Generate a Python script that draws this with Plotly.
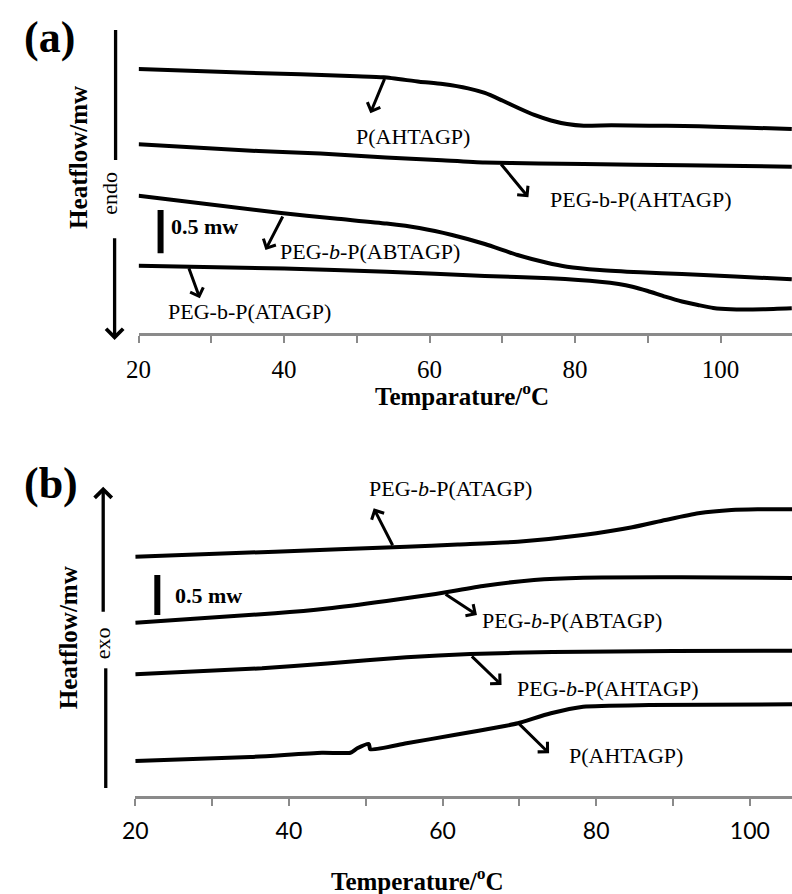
import plotly.graph_objects as go

W, H = 792, 894

# ---------------- data: panel (a) heating (endo down) ----------------
a_ahtagp_T = [20, 35, 50, 53.7, 58.6, 61.8, 65.3, 67.6, 70, 72.2, 74.4, 76.7, 78.9, 81.2, 85, 90.2, 95, 99.1, 104, 109.8]
a_ahtagp_v = [3.070, 3.027, 2.986, 2.973, 2.922, 2.895, 2.845, 2.791, 2.703, 2.616, 2.535, 2.471, 2.430, 2.410, 2.415, 2.410, 2.407, 2.399, 2.387, 2.372]

a_peg_ahtagp_T = [20, 36.5, 45, 54, 61, 67.6, 75, 81.2, 95, 109.8]
a_peg_ahtagp_v = [2.194, 2.116, 2.087, 2.041, 2.012, 1.983, 1.971, 1.965, 1.950, 1.934]

a_peg_abtagp_T = [20, 39.6, 47, 54.1, 58.6, 63.1, 67.6, 72.1, 76, 78.9, 83.4, 89, 94.7, 102, 109.8]
a_peg_abtagp_v = [1.597, 1.395, 1.331, 1.273, 1.221, 1.140, 1.035, 0.907, 0.820, 0.771, 0.733, 0.706, 0.686, 0.657, 0.624]

a_peg_atagp_T = [20, 40, 54.1, 67.6, 76.6, 83.4, 86, 87.9, 90, 92.4, 94.7, 96.9, 99, 101.4, 105.9, 109.8]
a_peg_atagp_v = [0.783, 0.750, 0.713, 0.663, 0.636, 0.597, 0.570, 0.538, 0.488, 0.422, 0.366, 0.326, 0.291, 0.276, 0.276, 0.287]

# ---------------- data: panel (b) cooling (exo up) ----------------
b_peg_atagp_T = [20, 38.2, 55.3, 62, 69.8, 78.3, 84.7, 89, 93.3, 97.6, 101, 105.5]
b_peg_atagp_v = [2.991, 3.054, 3.116, 3.144, 3.179, 3.263, 3.359, 3.450, 3.534, 3.575, 3.584, 3.584]

b_peg_abtagp_T = [20, 38.2, 45, 52.7, 59.1, 65.5, 71.9, 78.3, 91.1, 105.5]
b_peg_abtagp_v = [2.166, 2.284, 2.344, 2.438, 2.525, 2.629, 2.700, 2.729, 2.734, 2.725]

b_peg_ahtagp_T = [20, 36.5, 45, 55.3, 63.6, 74.3, 90, 105.5]
b_peg_ahtagp_v = [1.521, 1.596, 1.656, 1.734, 1.775, 1.800, 1.8125, 1.816]

b_ahtagp_T = [20, 35, 44.3, 48.0, 48.9, 50.4, 50.6, 55.3, 61.5, 68.1, 69.8, 74.1, 78.3, 86.9, 105.5]
b_ahtagp_v = [0.4375, 0.4875, 0.541, 0.541, 0.596, 0.650, 0.584, 0.659, 0.7625, 0.875, 0.909, 1.034, 1.116, 1.1375, 1.146]

tick_vals = [20, 40, 60, 80, 100]
tick_text = ["20", "40", "60", "80", "100"]
minor_step = 10

labels_a = ["P(AHTAGP)", "PEG-b-P(AHTAGP)", "PEG-<i>b</i>-P(ABTAGP)", "PEG-b-P(ATAGP)"]
labels_b = ["PEG-<i>b</i>-P(ATAGP)", "PEG-<i>b</i>-P(ABTAGP)", "PEG-<i>b</i>-P(AHTAGP)", "P(AHTAGP)"]


def px(x):
    return x / W


def py(y):
    return 1 - y / H


fig = go.Figure()
line = dict(color="black", width=4, shape="spline", smoothing=0.6)
for T, v in [(a_ahtagp_T, a_ahtagp_v), (a_peg_ahtagp_T, a_peg_ahtagp_v),
             (a_peg_abtagp_T, a_peg_abtagp_v), (a_peg_atagp_T, a_peg_atagp_v)]:
    fig.add_trace(go.Scatter(x=T, y=v, mode="lines", line=line, xaxis="x", yaxis="y",
                             showlegend=False, hoverinfo="skip"))
for T, v in [(b_peg_atagp_T, b_peg_atagp_v), (b_peg_abtagp_T, b_peg_abtagp_v),
             (b_peg_ahtagp_T, b_peg_ahtagp_v), (b_ahtagp_T, b_ahtagp_v)]:
    fig.add_trace(go.Scatter(x=T, y=v, mode="lines", line=line, xaxis="x2", yaxis="y2",
                             showlegend=False, hoverinfo="skip"))

serif = "Liberation Serif, Times New Roman, serif"
axis_common = dict(showgrid=False, zeroline=False, showline=True, linecolor="#8a8a8a",
                   linewidth=2.5, ticks="outside", ticklen=7, tickwidth=2, tickcolor="#8a8a8a",
                   tickvals=tick_vals, ticktext=tick_text, fixedrange=True,
                   minor=dict(dtick=minor_step, tick0=20, ticks="outside", ticklen=7,
                              tickwidth=2, tickcolor="#8a8a8a", showgrid=False))

fig.update_layout(
    width=W, height=H, autosize=False,
    margin=dict(l=0, r=0, t=0, b=0),
    paper_bgcolor="white", plot_bgcolor="white",
    xaxis=dict(domain=[px(127.7), 1], range=[20, 109.83], anchor="y", ticklabelstandoff=5,
               tickfont=dict(family=serif, size=25, color="black"), **axis_common),
    yaxis=dict(domain=[py(333), py(40)], range=[0, 3.407], visible=False, anchor="x"),
    xaxis2=dict(domain=[px(124.3), 1], range=[20, 105.49], anchor="y2", ticklabelstandoff=6,
                tickfont=dict(family="Lato, Open Sans, sans-serif", size=23, color="black"),
                **axis_common),
    yaxis2=dict(domain=[py(796), py(480)], range=[0, 3.95], visible=False, anchor="x2"),
)

ann = []
lab_font = dict(family=serif, size=22, color="black")


def arrow(xref, yref, tail, head):
    return dict(x=head[0], y=head[1], ax=tail[0], ay=tail[1], xref=xref, yref=yref,
                axref=xref, ayref=yref, text="", showarrow=True, arrowhead=4,
                arrowsize=0.9, arrowwidth=3, arrowcolor="black", standoff=0, startstandoff=0)


def label(xref, yref, x, y, text, xanchor="center", bold=False):
    t = f"<b>{text}</b>" if bold else text
    return dict(x=x, y=y, xref=xref, yref=yref, text=t, showarrow=False,
                xanchor=xanchor, yanchor="middle", font=lab_font)


# panel (a) annotations
ann += [
    arrow("x", "y", (53.9, 2.973), (51.86, 2.555)),
    label("x", "y", 57.7, 2.283, labels_a[0]),
    arrow("x", "y", (69.67, 1.980), (73.59, 1.578)),
    label("x", "y", 89.1, 1.558, labels_a[1]),
    arrow("x", "y", (39.92, 1.372), (37.44, 0.965)),
    label("x", "y", 51.8, 0.945, labels_a[2]),
    arrow("x", "y", (26.84, 0.771), (28.42, 0.403)),
    label("x", "y", 35.24, 0.248, labels_a[3]),
    label("x", "y", 24.23, 1.236, "0.5 mw", xanchor="left", bold=True),
]
# panel (b) annotations
ann += [
    arrow("x2", "y2", (53.6, 3.116), (51.04, 3.596)),
    label("x2", "y2", 61.0, 3.846, labels_b[0]),
    arrow("x2", "y2", (60.2, 2.534), (64.48, 2.2625)),
    label("x2", "y2", 76.85, 2.2, labels_b[1]),
    arrow("x2", "y2", (63.62, 1.7625), (67.68, 1.3875)),
    label("x2", "y2", 81.55, 1.346, labels_b[2]),
    arrow("x2", "y2", (69.81, 0.916), (73.87, 0.534)),
    label("x2", "y2", 83.9, 0.5125, labels_b[3]),
    label("x2", "y2", 24.96, 2.5125, "0.5 mw", xanchor="left", bold=True),
]


def ptext(x, y, text, size, angle=0, bold=False):
    t = f"<b>{text}</b>" if bold else text
    return dict(x=px(x), y=py(y), xref="paper", yref="paper", text=t, showarrow=False,
                xanchor="center", yanchor="middle", textangle=angle,
                font=dict(family=serif, size=size, color="black"))


ann += [
    ptext(37.5, 38, "(a)", 44, bold=True),
    ptext(38.3, 484, "(b)", 44, bold=True),
    ptext(66, 157, "Heatflow/mw", 25, angle=-90, bold=True),
    ptext(98, 193.3, "endo", 22, angle=-90),
    ptext(56.7, 637.5, "Heatflow/mw", 25, angle=-90, bold=True),
    ptext(90.7, 643, "exo", 22, angle=-90),
    ptext(456, 394, "Temparature/<sup>o</sup>C", 25, bold=True),
    ptext(411.5, 879, "Temperature/<sup>o</sup>C", 25, bold=True),
]

# vertical direction arrows (paper coords, pixel offsets)
ann += [
    dict(x=px(103.3), y=py(340), xref="paper", yref="paper", ax=0, ay=236.7 - 340,
         text="", showarrow=True, arrowhead=4, arrowsize=1, arrowwidth=3.3,
         arrowcolor="black", standoff=0),
    dict(x=px(91.7), y=py(486.7), xref="paper", yref="paper", ax=0, ay=613.3 - 486.7,
         text="", showarrow=True, arrowhead=4, arrowsize=1, arrowwidth=3.3,
         arrowcolor="black", standoff=0),
]

shapes = [
    dict(type="line", xref="paper", yref="paper", x0=px(104.3), x1=px(104.3), y0=py(30), y1=py(160),
         line=dict(color="black", width=3.3)),
    dict(type="line", xref="paper", yref="paper", x0=px(94.3), x1=px(94.3), y0=py(668.3), y1=py(788),
         line=dict(color="black", width=3.3)),
    # 0.5 mW scale bars
    dict(type="line", xref="x", yref="y", x0=23.02, x1=23.02, y0=0.927, y1=1.430,
         line=dict(color="black", width=6)),
    dict(type="line", xref="x2", yref="y2", x0=22.87, x1=22.87, y0=2.2625, y1=2.7625,
         line=dict(color="black", width=6)),
]

fig.update_layout(annotations=ann, shapes=shapes)
fig.write_html("out.html")
